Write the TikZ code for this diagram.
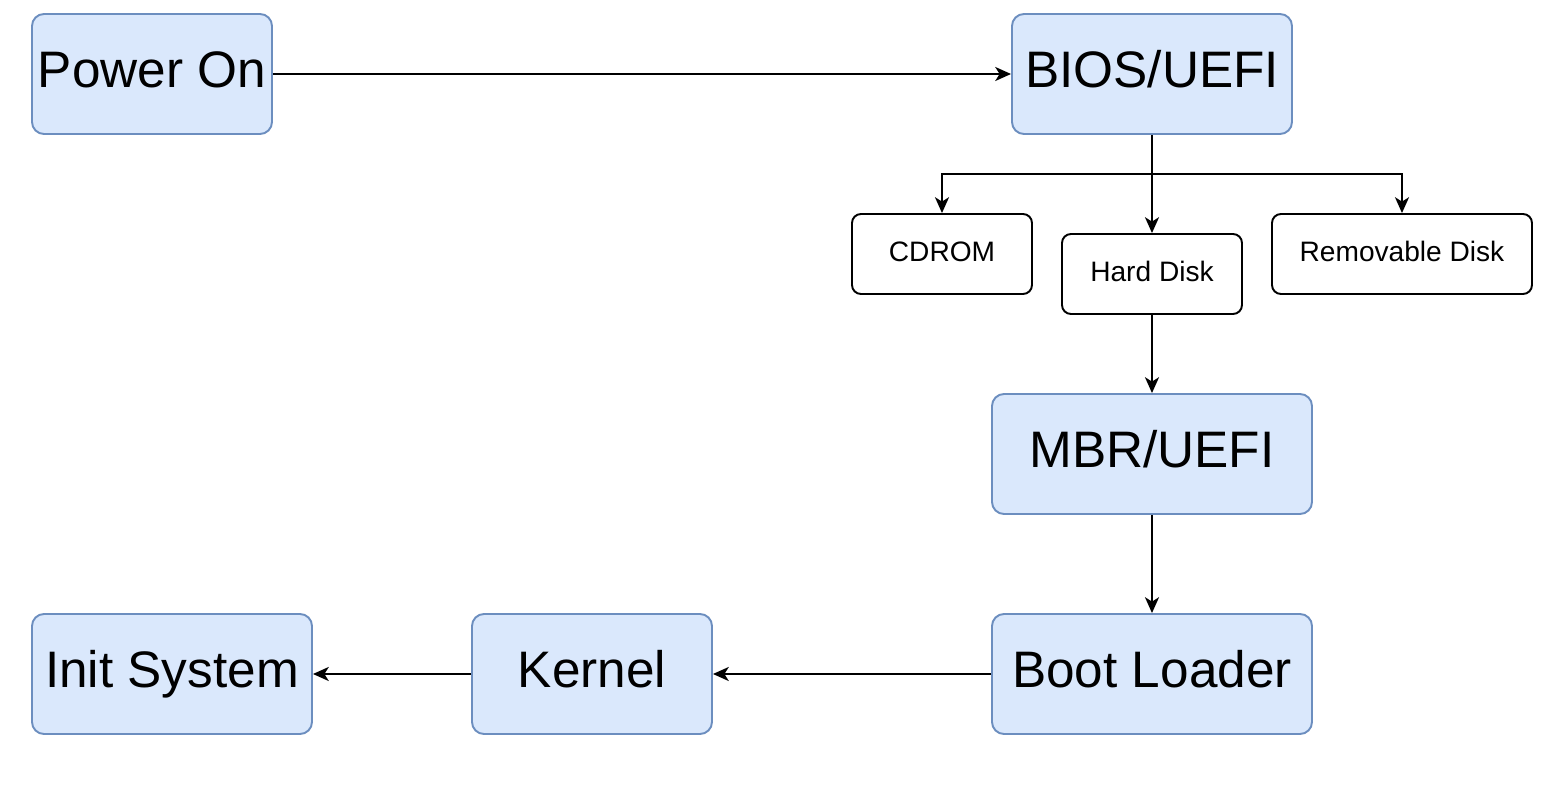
\documentclass[tikz,border=0pt]{standalone}
\usepackage{fontspec}
\setmainfont{Liberation Sans}
\usepackage{tikz}
\usetikzlibrary{positioning,arrows.meta}

\definecolor{stagefill}{HTML}{DAE8FC}
\definecolor{stageline}{HTML}{6C8EBF}

\tikzset{
  stage/.style={draw=stageline, fill=stagefill, line width=1.1pt, rounded corners=0.24cm,
    minimum height=2.4cm, inner sep=0pt, text height=21pt, text depth=5.7pt,
    font=\fontsize{29.2}{34}\selectfont},
  media/.style={draw=black, fill=white, line width=1.1pt, rounded corners=0.18cm,
    minimum width=3.6cm, minimum height=1.6cm, inner sep=0pt, text height=11.5pt, text depth=3.4pt,
    font=\fontsize{16}{19}\selectfont},
  flow/.style={->, line width=1.1pt, >={Stealth[length=9pt,width=8pt,inset=2.5pt]}}
}

\begin{document}
\begin{tikzpicture}[node distance=2cm,on grid]
               \useasboundingbox (-3.04,1.48) rectangle (27.98,-14.52);
               \node[stage, minimum width=4.8cm] (power) {Power On};
               \node[stage, minimum width=5.6cm] (bios) [right=20cm of power] {BIOS/UEFI};
               \node[media] (hdd) [below=4cm of bios] {Hard Disk};
               \node[media] (cdrom) [above left=0.4cm and 4.2cm of hdd] {CDROM};
               \node[media, minimum width=5.2cm] (removable) [above right=0.4cm and 5cm of hdd] {Removable Disk};
               \node[stage, minimum width=6.4cm] (mbr) [below=3.6cm of hdd] {MBR/UEFI};
               \node[stage, minimum width=6.4cm] (boot) [below=4.4cm of mbr] {Boot Loader};
               \node[stage, minimum width=4.8cm] (kernel) [left=11.2cm of boot] {Kernel};
               \node[stage, minimum width=5.6cm] (init) [left=8.4cm of kernel] {Init System};
               \coordinate[below=2cm of bios] (split);
		\draw[flow] (power) -- (bios);
		\draw[flow] (bios) -- (hdd);
		\draw[flow] (split) -| (cdrom.north);
		\draw[flow] (split) -| (removable.north);
		\draw[flow] (hdd) -- (mbr);
		\draw[flow] (mbr) -- (boot);
		\draw[flow] (boot) -- (kernel);
		\draw[flow] (kernel) -- (init);
            \end{tikzpicture}
\end{document}
